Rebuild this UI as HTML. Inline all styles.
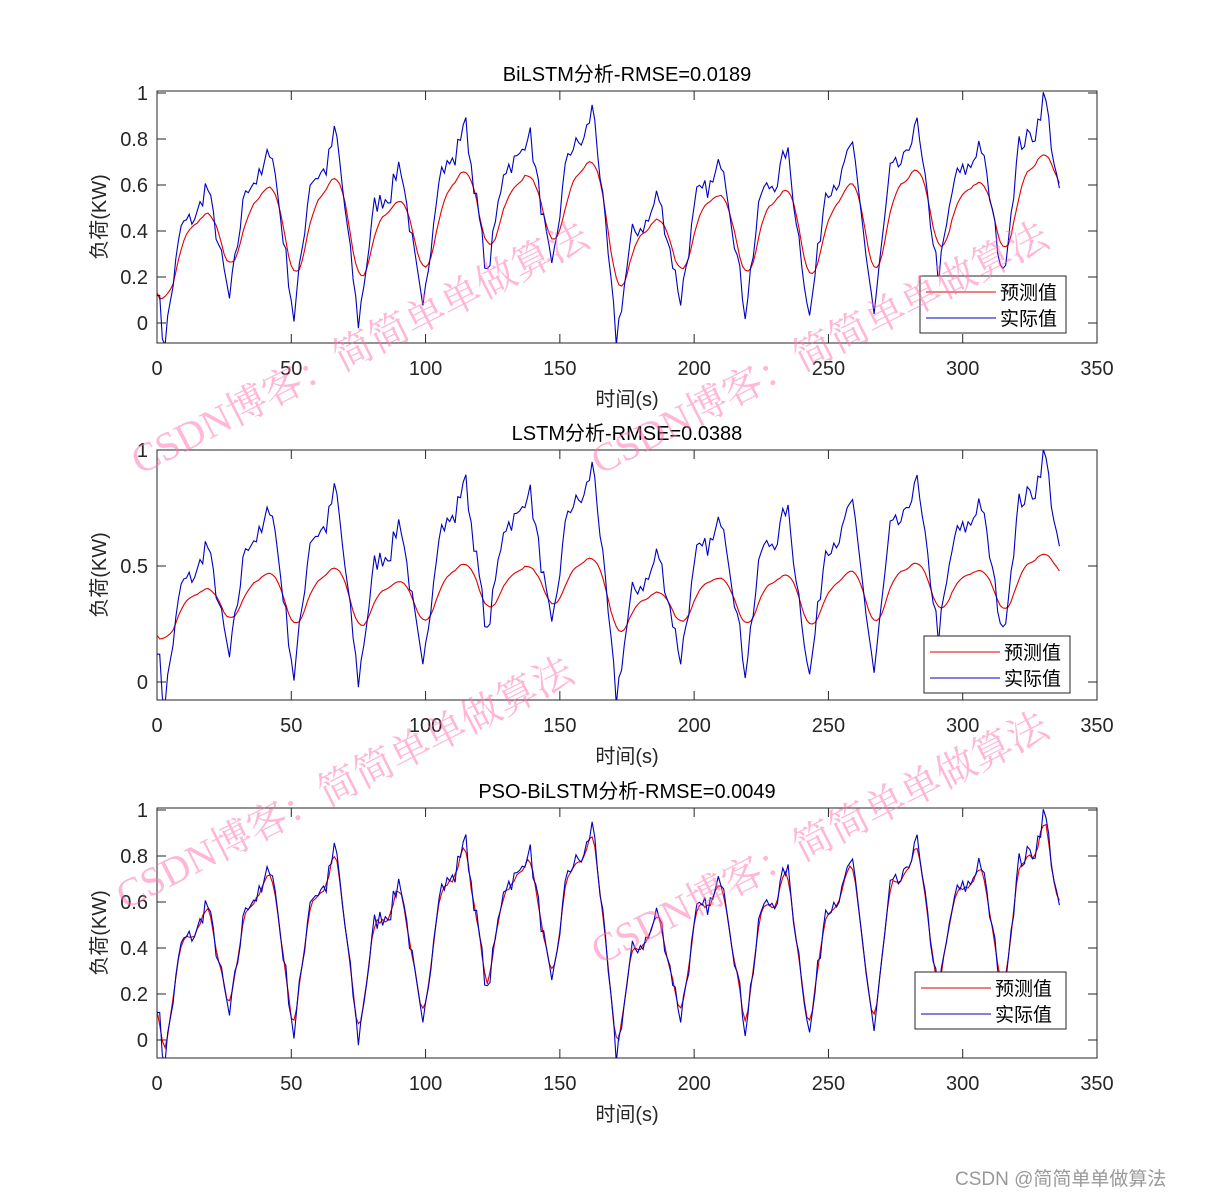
<!DOCTYPE html>
<html><head><meta charset="utf-8"><style>
body{margin:0;background:#fff;}
svg text{font-family:"Liberation Sans","Noto Sans CJK SC",sans-serif;}
svg text.wm{font-family:"Liberation Serif","Noto Serif CJK SC",serif;}
</style></head><body>
<svg id="s" width="1213" height="1196" xmlns="http://www.w3.org/2000/svg"></svg>
<script>
const S=document.getElementById('s');
let h='';
const peaks=[0.61,0.78,0.85,0.71,0.9,0.85,0.95,0.57,0.73,0.77,0.8,0.9,0.8,1.0,0.9];
const troughs=[-0.07,0.1,0.02,0.0,0.04,0.2,0.22,-0.07,0.1,0.05,0.02,0.04,0.2,0.2,0.3];
let seed=7;function rnd(){seed=(seed*16807)%2147483647;return seed/2147483647-0.5;}
const N=337,act=[];
for(let t=0;t<N;t++){
  let d=Math.floor((t-3)/24), p=t-3-24*d; if(d<0){d=0;p=t;}
  const T=troughs[Math.max(0,d)],P=peaks[Math.min(d,peaks.length-1)],T2=troughs[Math.min(d+1,troughs.length-1)];
  const L=T+(P-T)*0.72;
  let v;
  if(p<6)v=T+(L-T)*(p/6);
  else if(p<12)v=L+(p-6)/6*0.05;
  else if(p<15.5)v=L+0.05+(P-L-0.05)*((p-12)/3.5);
  else if(p<18)v=P-(P-(P+T2)/2)*((p-15.5)/2.5)*0.6;
  else v=(P*0.7+T2*0.3)+( T2-(P*0.7+T2*0.3))*((p-18)/6);
  v+=rnd()*0.09;
  act.push(v);
}
act[0]=0.12;act[1]=0.12;act[2]=-0.07;
function smooth(a,k,lag){const o=[];for(let i=0;i<a.length;i++){let s=0,c=0;for(let j=-k;j<=k;j++){const q=i+j-lag;if(q>=0&&q<a.length){s+=a[q];c++;}}o.push(s/c);}return o;}
const sm=smooth(act,3,1);
const p1=sm.map(v=>0.2+0.72*(v-0.15));
const p2=sm.map(v=>0.22+0.42*(v-0.1));
const p3=smooth(act,1,0).map((v,i)=>v*0.97+0.01);
function axes(top,bot,y0,y1px,ticks,labels,title,series){
  const L=157,R=1097,xs=t=>L+t*(R-L)/350,ys=v=>y0-(y0-y1px)*v;
  h+=`<rect x="${L}" y="${top}" width="${R-L}" height="${bot-top}" fill="#fff" stroke="#262626" stroke-width="1"/>`;
  for(let x=0;x<=350;x+=50){const X=xs(x);h+=`<line x1="${X}" y1="${bot}" x2="${X}" y2="${bot-9}" stroke="#262626"/><line x1="${X}" y1="${top}" x2="${X}" y2="${top+9}" stroke="#262626"/><text x="${X}" y="${bot+32}" font-size="20" text-anchor="middle" fill="#262626">${x}</text>`;}
  ticks.forEach((v,i)=>{const Y=ys(v);h+=`<line x1="${L}" y1="${Y}" x2="${L+9}" y2="${Y}" stroke="#262626"/><line x1="${R}" y1="${Y}" x2="${R-9}" y2="${Y}" stroke="#262626"/><text x="${L-9}" y="${Y+7}" font-size="20" text-anchor="end" fill="#262626">${labels[i]}</text>`;});
  h+=`<text x="627" y="${top-10}" font-size="20" text-anchor="middle" fill="#000">${title}</text>`;
  h+=`<text x="627" y="${bot+63}" font-size="20" text-anchor="middle" fill="#262626">时间(s)</text>`;
  h+=`<text transform="translate(106,${(top+bot)/2}) rotate(-90)" font-size="20" text-anchor="middle" fill="#262626">负荷(KW)</text>`;
  h+=`<clipPath id="c${top}"><rect x="${L}" y="${top}" width="${R-L}" height="${bot-top}"/></clipPath><g clip-path="url(#c${top})">`;
  series.forEach(([arr,col])=>{h+=`<polyline fill="none" stroke="${col}" stroke-width="1.1" points="${arr.map((v,i)=>xs(i).toFixed(1)+','+ys(v).toFixed(1)).join(' ')}"/>`;});
  h+='</g>';
}
function legend(x,y,w){h+=`<rect x="${x}" y="${y}" width="${w}" height="57" fill="#fff" stroke="#262626"/>
<line x1="${x+6}" y1="${y+16}" x2="${x+76}" y2="${y+16}" stroke="#e00000"/><text x="${x+80}" y="${y+23}" font-size="19" fill="#000">预测值</text>
<line x1="${x+6}" y1="${y+42}" x2="${x+76}" y2="${y+42}" stroke="#0000c0"/><text x="${x+80}" y="${y+49}" font-size="19" fill="#000">实际值</text>`;}
axes(91,343,323,93,[0,0.2,0.4,0.6,0.8,1],['0','0.2','0.4','0.6','0.8','1'],'BiLSTM分析-RMSE=0.0189',[[p1,'#e00000'],[act,'#0000c0']]);
legend(920,276,146);
axes(450,700,682,450,[0,0.5,1],['0','0.5','1'],'LSTM分析-RMSE=0.0388',[[p2,'#e00000'],[act,'#0000c0']]);
legend(924,636,146);
axes(808,1058,1040,810,[0,0.2,0.4,0.6,0.8,1],['0','0.2','0.4','0.6','0.8','1'],'PSO-BiLSTM分析-RMSE=0.0049',[[p3,'#e00000'],[act,'#0000c0']]);
legend(915,972,151);
const wm=(x,y)=>`<text class="wm" transform="translate(${x},${y}) rotate(-27)" font-size="40" fill="rgba(255,110,175,0.5)">CSDN博客：简简单单做算法</text>`;
h+=wm(140,475)+wm(600,475)+wm(125,910)+wm(600,965);
h+=`<text x="955" y="1185" font-size="19" fill="#999">CSDN @简简单单做算法</text>`;
S.innerHTML=h;
</script>
</body></html>
